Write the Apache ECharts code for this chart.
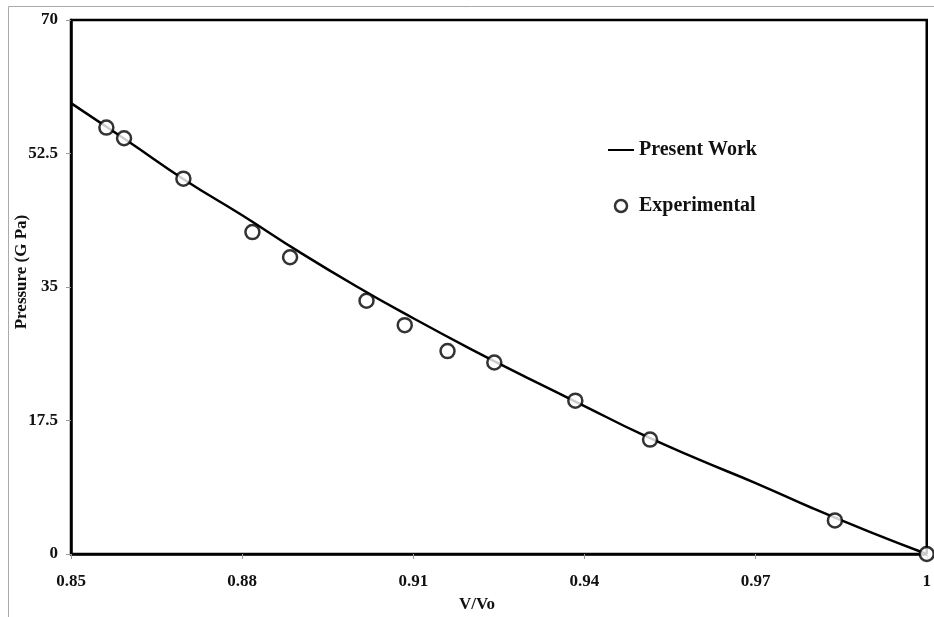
<!DOCTYPE html>
<html>
<head>
<meta charset="utf-8">
<script src="https://cdn.jsdelivr.net/npm/echarts@6/dist/echarts.min.js"></script>
<style>
html,body{margin:0;padding:0;background:#fff;}
#chart{width:934px;height:617px;}
</style>
</head>
<body>
<div id="chart"></div>
<script>
// Present Work curve (V/Vo, Pressure GPa)
const lineV = [0.85, 0.86, 0.87, 0.88, 0.89, 0.90, 0.91, 0.92, 0.93, 0.94, 0.95, 0.96, 0.97, 0.98, 0.99, 1.00];
const lineP = [59.1, 54.1, 49.0, 44.4, 39.6, 35.1, 30.9, 26.9, 23.1, 19.4, 15.7, 12.4, 9.3, 6.0, 2.9, 0];
// Experimental points
const expV = [0.8562, 0.8593, 0.8697, 0.8818, 0.8884, 0.9018, 0.9085, 0.9160, 0.9242, 0.9384, 0.9515, 0.9839, 1.0];
const expP = [55.9, 54.5, 49.2, 42.2, 38.9, 33.2, 30.0, 26.6, 25.1, 20.1, 15.0, 4.4, 0];
// Tick labels
const xTicks = [0.85, 0.88, 0.91, 0.94, 0.97, 1];
const yTicks = [0, 17.5, 35, 52.5, 70];

const FONT = '"Liberation Serif", "Times New Roman", serif';
const chart = echarts.init(document.getElementById('chart'));
chart.setOption({
  animation: false,
  backgroundColor: '#fff',
  grid: {
    left: 71, right: 3, top: 20, bottom: 63,
    show: true, borderColor: '#000', borderWidth: 2.5, backgroundColor: 'transparent'
  },
  legend: {
    orient: 'vertical',
    left: 607, top: 140, padding: 0,
    itemWidth: 26, itemHeight: 12, itemGap: 36,
    textStyle: { fontFamily: FONT, fontWeight: 'bold', fontSize: 20, color: '#111' },
    data: [
      { name: 'Present Work', itemStyle: { color: 'rgba(0,0,0,0)', borderWidth: 0, borderColor: 'rgba(0,0,0,0)' } },
      { name: 'Experimental', itemStyle: { color: '#fff', borderColor: '#000', borderWidth: 2.5 } }
    ]
  },
  xAxis: {
    type: 'value',
    min: 0.85, max: 1,
    axisLine: { show: true, lineStyle: { color: '#000', width: 2.5 } },
    axisTick: { show: true, length: 5, lineStyle: { color: '#999', width: 1 }, customValues: xTicks },
    axisLabel: {
      customValues: xTicks,
      margin: 19,
      fontFamily: FONT, fontWeight: 'bold', fontSize: 17, color: '#111',
      formatter: v => (Math.abs(v - 1) < 1e-9 ? '1' : v.toFixed(2))
    },
    splitLine: { show: false }
  },
  yAxis: {
    type: 'value',
    min: 0, max: 70, interval: 17.5,
    axisLine: { show: true, lineStyle: { color: '#000', width: 2.5 } },
    axisTick: { show: true, length: 5, lineStyle: { color: '#999', width: 1 } },
    axisLabel: {
      margin: 13,
      fontFamily: FONT, fontWeight: 'bold', fontSize: 17, color: '#111',
      formatter: v => String(v)
    },
    splitLine: { show: false }
  },
  graphic: [
    { type: 'rect', shape: { x: 8.5, y: 6.5, width: 1000, height: 1000 }, style: { fill: 'none', stroke: '#aaa', lineWidth: 1 }, silent: true, z: -10 },
    { type: 'text', x: 22, y: 272, rotation: Math.PI / 2,
      style: { text: 'Pressure (G Pa)', font: 'bold 17px ' + FONT, fill: '#111', align: 'center', verticalAlign: 'middle' } },
    { type: 'text', x: 477, y: 605,
      style: { text: 'V/Vo', font: 'bold 17px ' + FONT, fill: '#111', align: 'center', verticalAlign: 'middle' } }
  ],
  series: [
    {
      name: 'Present Work',
      type: 'line',
      smooth: true,
      symbol: 'none',
      lineStyle: { color: '#000', width: 2.5 },
      itemStyle: { color: '#000' },
      data: lineV.map((v, i) => [v, lineP[i]]),
      z: 3
    },
    {
      name: 'Experimental',
      type: 'scatter',
      symbol: 'circle',
      symbolSize: 14,
      clip: false,
      itemStyle: { color: '#fff', borderColor: '#000', borderWidth: 2.5 },
      data: expV.map((v, i) => [v, expP[i]]),
      z: 4
    }
  ]
});
</script>
</body>
</html>
